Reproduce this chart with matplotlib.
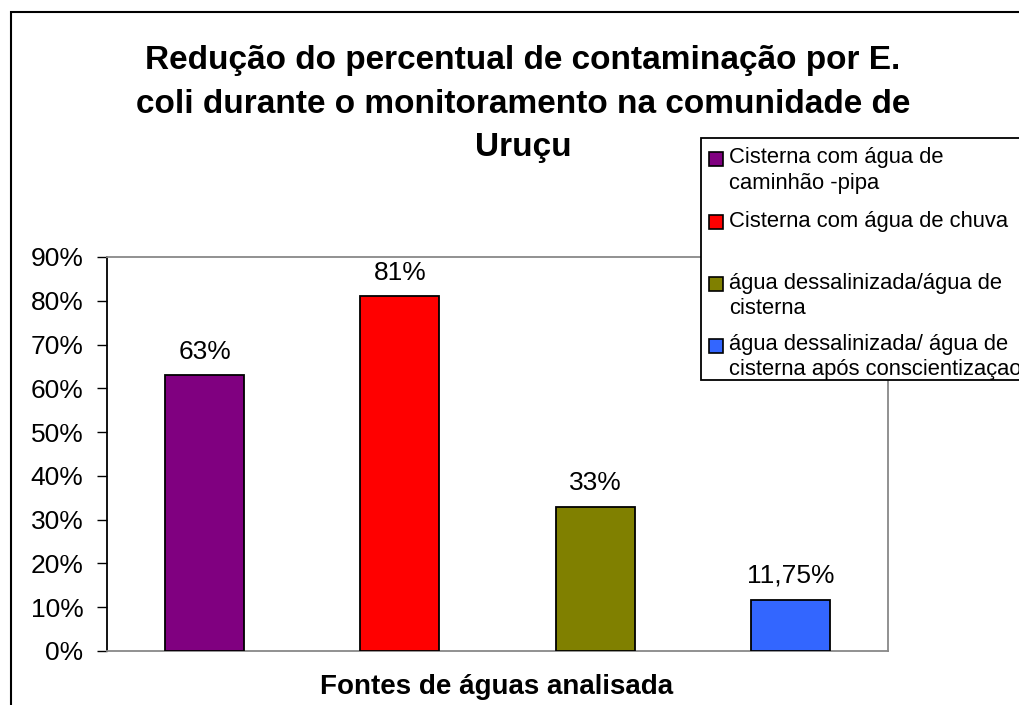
import matplotlib
matplotlib.use("Agg")
import matplotlib.pyplot as plt
from matplotlib.patches import Rectangle

categories = ["Cisterna com água de\ncaminhão -pipa",
              "Cisterna com água de chuva",
              "água dessalinizada/água de\ncisterna",
              "água dessalinizada/ água de\ncisterna após conscientizaçao"]
values = [63, 81, 33, 11.75]
value_labels = ["63%", "81%", "33%", "11,75%"]
colors = ["#800080", "#FF0000", "#808000", "#3366FF"]
yticks = [0, 10, 20, 30, 40, 50, 60, 70, 80, 90]
title_lines = ["Redução do percentual de contaminação por E.",
               "coli durante o monitoramento na comunidade de",
               "Uruçu"]
xlabel = "Fontes de águas analisada"

plt.rcParams['font.family'] = ['Liberation Sans', 'DejaVu Sans']

W, H = 1020, 705
fig = plt.figure(figsize=(W / 100, H / 100), dpi=100)

def fx(px):
    return px / W

def fy(py):
    return 1 - py / H

# outer chart frame (left and top visible)
fig.patches.append(Rectangle((fx(11), fy(760)), fx(1100 - 11), fy(12) - fy(760),
                             transform=fig.transFigure, fill=False,
                             edgecolor="black", linewidth=1.5))

ax = fig.add_axes([fx(107), fy(651), fx(888 - 107), fy(257) - fy(651)])
x = list(range(len(values)))
ax.bar(x, values, width=0.405, color=colors, edgecolor="black", linewidth=1.3, zorder=3)
for xi, v, lab in zip(x, values, value_labels):
    ax.annotate(lab, (xi, v), xytext=(0, 12), textcoords="offset points",
                ha="center", va="baseline", fontsize=19)

ax.set_xlim(-0.5, len(values) - 0.5)
ax.set_ylim(0, 90)
ax.set_yticks(yticks)
ax.set_yticklabels([f"{t}%" for t in yticks], fontsize=19)
ax.set_xticks([])
ax.tick_params(axis="y", direction="out", length=7, width=1, pad=10, colors="black")
for side in ["top", "right", "bottom"]:
    ax.spines[side].set_color("#888888")
    ax.spines[side].set_linewidth(1.3)
ax.spines["left"].set_color("black")
ax.spines["left"].set_linewidth(1.3)

fig.text(fx(497), fy(687), xlabel, ha="center", va="center",
         fontsize=20, fontweight="bold")
for line, yb in zip(title_lines, [69, 113, 156]):
    fig.text(fx(523), fy(yb), line, ha="center", va="baseline",
             fontsize=24, fontweight="bold")

# legend box
fig.patches.append(Rectangle((fx(701), fy(380)), fx(1100 - 701), fy(138) - fy(380),
                             transform=fig.transFigure, facecolor="white",
                             edgecolor="black", linewidth=1.3, zorder=5))
first_line_y = [158, 221, 283, 345]
line_gap = 25
for lab, c, y0 in zip(categories, colors, first_line_y):
    fig.patches.append(Rectangle((fx(709), fy(y0 + 8)), fx(14), fy(y0 - 6) - fy(y0 + 8),
                                 transform=fig.transFigure, facecolor=c,
                                 edgecolor="black", linewidth=1.2, zorder=6))
    for k, line in enumerate(lab.split("\n")):
        fig.text(fx(729), fy(y0 + k * line_gap), line, ha="left", va="center",
                 fontsize=15.8, zorder=7)

fig.savefig("out.png", dpi=100)
